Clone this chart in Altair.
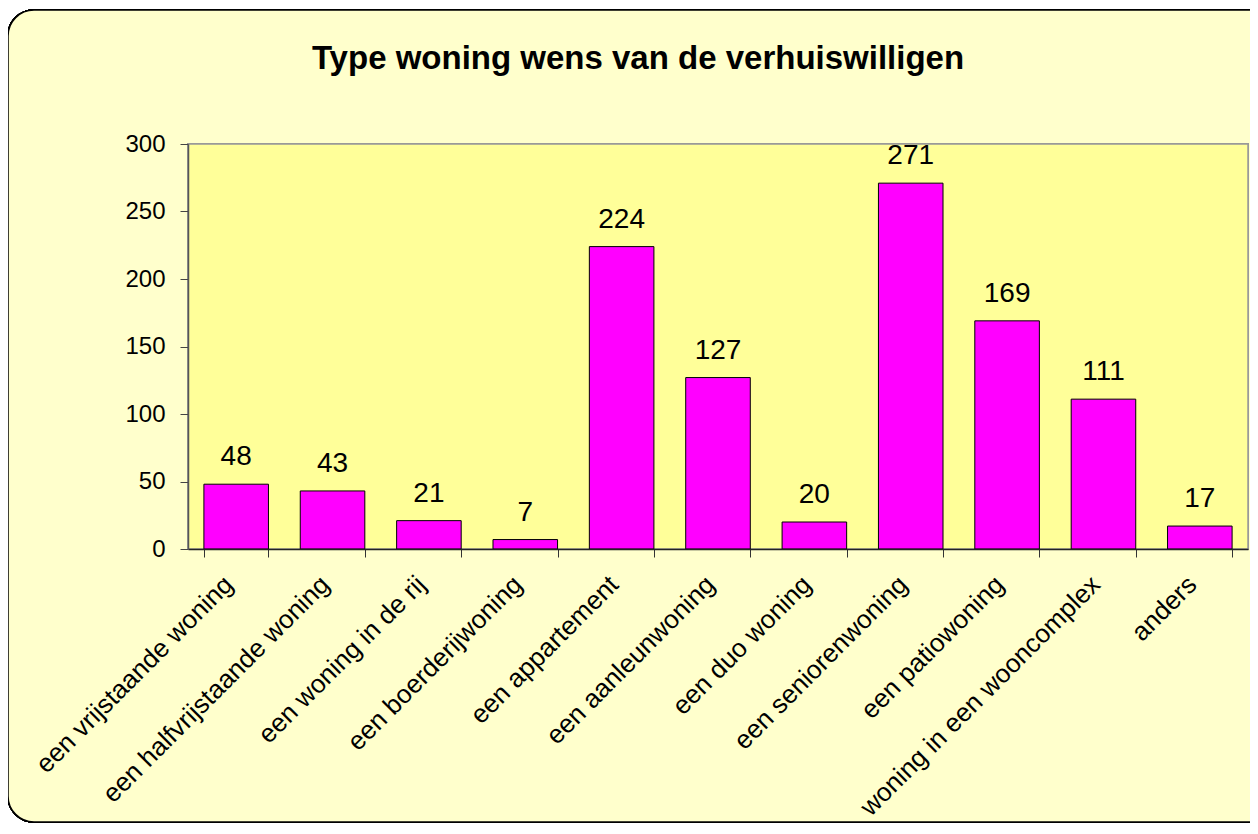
import altair as alt
import pandas as pd

categories = [
    "een vrijstaande woning",
    "een halfvrijstaande woning",
    "een woning in de rij",
    "een boerderijwoning",
    "een appartement",
    "een aanleunwoning",
    "een duo woning",
    "een seniorenwoning",
    "een patiowoning",
    "woning in een wooncomplex",
    "anders",
]
values = [48, 43, 21, 7, 224, 127, 20, 271, 169, 111, 17]
y_ticks = [0, 50, 100, 150, 200, 250, 300]
title_text = "Type woning wens van de verhuiswilligen"

W, H = 1060, 405
FONT = "Liberation Sans"

df = pd.DataFrame({"cat": categories, "val": values})

x_enc = alt.X(
    "cat:N",
    sort=categories,
    title=None,
    scale=alt.Scale(paddingInner=0.33, paddingOuter=0.165),
    axis=alt.Axis(
        labelAngle=-45,
        labelAlign="right",
        labelBaseline="top",
        labelFont=FONT,
        labelFontSize=26,
        labelColor="black",
        labelPadding=14,
        labelOffset=-17,
        labelLimit=0,
        tickBand="extent",
        tickSize=8,
        tickColor="#333333",
        domainColor="#222222",
        domainWidth=1.5,
        zindex=1,
    ),
)
y_enc = alt.Y(
    "val:Q",
    title=None,
    scale=alt.Scale(domain=[0, 300], nice=False),
    axis=alt.Axis(
        values=y_ticks,
        labelFont=FONT,
        labelFontSize=24,
        labelColor="black",
        labelPadding=15,
        tickSize=8,
        tickColor="#444444",
        domainColor="#555555",
        domainWidth=1.5,
        grid=False,
        zindex=1,
    ),
)

base = alt.Chart(df)

frame = base.mark_rect(
    fill="#FFFFCC", stroke="black", strokeWidth=1.5, cornerRadius=26
).encode(
    x=alt.value(-180), x2=alt.value(1200), y=alt.value(-134), y2=alt.value(678)
)

plotbg = base.mark_rect(fill="#FFFF99", stroke="#999999", strokeWidth=1.5).encode(
    x=alt.value(0), x2=alt.value(W), y=alt.value(0), y2=alt.value(H)
)

bars = base.mark_bar(fill="#FF00FF", stroke="black", strokeWidth=1).encode(
    x=x_enc, y=y_enc
)

labels = base.mark_text(
    font=FONT, fontSize=28, color="black", baseline="alphabetic", dy=-19
).encode(x=alt.X("cat:N", sort=categories), y="val:Q", text="val:Q")

chart = (
    alt.layer(frame, plotbg, bars, labels)
    .properties(
        width=W,
        height=H,
        autosize="none",
        padding={"left": 180, "top": 136, "right": 2, "bottom": 277},
        background="white",
        title=alt.TitleParams(
            text=title_text,
            font=FONT,
            fontSize=33,
            fontWeight="bold",
            color="black",
            anchor="middle",
            baseline="alphabetic",
            frame="group",
            dx=-80,
            offset=-93,
        ),
    )
    .configure_view(stroke=None)
)

chart.save("out.html", embed_options={"renderer": "svg", "actions": False})
